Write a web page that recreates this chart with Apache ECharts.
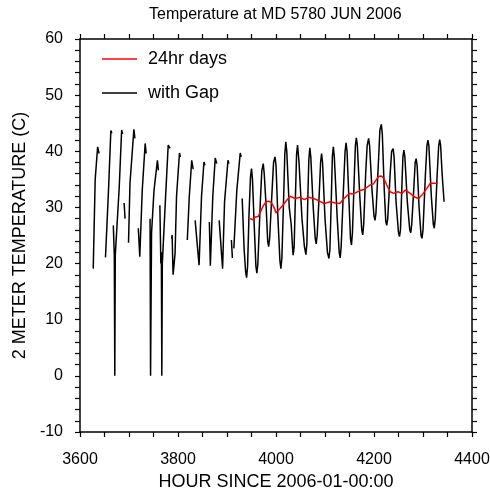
<!DOCTYPE html>
<html><head><meta charset="utf-8">
<script src="https://cdn.jsdelivr.net/npm/echarts@6/dist/echarts.min.js"></script>
<style>html,body{margin:0;padding:0;background:#fff}#c{width:490px;height:491px}</style>
</head><body><div id="c"></div>
<script>
// Early June: hourly 2 m temperature with missing hours (null = gap)
const gapHours = [
  3627,3631,3636,3639, 3645,
  3652,3658,3663,3665, 3666.5,
  3668,3670,3671,3672,3675,3680,3685,3687, 3689,
  3690,3692, 3695,
  3699,3702,3710,3712, 3716,
  3719,3722,3727,3733,3735, 3740,
  3743,3744,3746,3751,3758,3760, 3762,
  3763,3765,3766,3767,3768,3770,3775,3780,3784, 3786,
  3787,3788,3790,3794,3797,3803,3805, 3812,
  3819,3823,3828,3831, 3833,
  3835,3843,3848,3853,3855, 3860,
  3864,3866,3871,3876,3879, 3882,
  3884,3891,3895,3902,3904, 3906,
  3909,3911, 3913,
  3914,3920,3927,3929, 3930
];
const gapTemps = [
  19.1,35.0,40.8,39.6, null,
  21.1,32.7,43.7,43.2, null,
  26.8,21.5,0,21.5,21.2,33.5,43.8,43.1, null,
  30.8,28.0, null,
  23.7,34.3,43.9,42.3, null,
  26.3,21.2,33.0,41.4,39.6, null,
  28.0,0,25.4,33.0,38.4,36.6, null,
  30.4,20.0,22.0,0,20.0,23.6,32.5,41.1,40.5, null,
  24.4,25.1,18.0,21.8,32.0,39.7,39.0, null,
  24.2,31.9,38.4,36.8, null,
  27.7,19.7,32.0,38.1,37.5, null,
  27.4,19.6,32.0,38.8,37.8, null,
  27.7,19.1,31.0,38.4,37.8, null,
  24.2,21.0, null,
  22.7,33.0,39.7,39.0, null
];
// Later June: continuous hourly record (key readings)
const contHours = [
  3931,3935,3938,3940,3942,3945,3948,3950,3952,3955,3959,3961,3963,3968,3971,3974,
  3976,3980,3983,3985,3987,3992,3995,3998,4000,4004,4008,4010,4012,4016,4018,4020,
  4022,4027,4031,4034,4035,4037,4040,4042,4044,4047,4050,4053,4058,4061,4063,4065,
  4067,4069,4071,4076,4080,4082,4084,4088,4091,4093,4095,4100,4105,4108,4110,4113,
  4115,4117,4119,4125,4129,4131,4133,4138,4141,4143,4145,4149,4152,4154,4156,4160,
  4162,4164,4166,4171,4175,4177,4179,4183,4186,4189,4191,4196,4200,4202,4204,4209,
  4212,4215,4217,4221,4224,4226,4228,4233,4236,4239,4241,4245,4250,4252,4254,4257,
  4259,4261,4263,4268,4273,4275,4277,4281,4284,4286,4288,4292,4296,4298,4300,4305,
  4308,4310,4312,4317,4321,4323,4325,4329,4332,4334,4336,4339,4343
];
const contTemps = [
  31.6,22.5,18.5,17.5,19.5,29.0,35.5,36.9,35.0,28.0,19.5,18.3,20.0,31.0,36.5,37.8,
  36.0,30.0,24.0,23.0,24.5,33.0,38.0,39.0,37.5,28.0,20.5,19.1,21.0,33.0,39.5,41.7,
  40.0,30.0,27.0,22.5,21.5,23.0,33.0,39.5,41.1,38.0,33.0,28.0,23.0,21.6,23.5,32.0,
  38.5,40.6,39.0,30.0,24.5,23.5,25.0,32.0,38.0,39.6,38.0,28.0,22.0,20.9,22.5,32.0,
  39.0,40.8,39.0,28.0,22.0,21.0,23.0,34.0,40.0,41.5,40.0,31.0,24.5,23.3,25.5,36.0,
  41.0,42.4,41.0,32.0,26.0,25.1,27.0,36.0,41.0,42.3,41.0,33.0,28.5,27.7,29.0,38.0,
  43.8,44.8,43.0,33.0,27.5,26.8,28.0,36.0,40.0,40.5,39.0,31.0,25.5,24.8,26.0,34.0,
  39.0,40.2,39.0,31.0,26.0,25.5,27.0,33.0,38.0,38.7,37.5,30.0,25.0,24.5,26.0,36.0,
  41.0,42.0,41.0,32.0,27.0,26.3,28.0,36.0,41.0,42.1,41.0,36.0,31.0
];
// 24-hour running mean
const redHours = [
  3947,3953,3958,3964,3968,3974,3980,3986,3991,3997,4000,4006,4014,4021,4029,4039,
  4049,4058,4066,4077,4087,4098,4111,4121,4130,4139,4150,4158,4171,4180,4192,4199,
  4209,4215,4220,4226,4233,4240,4249,4257,4264,4274,4284,4291,4298,4308,4315,4322,4330
];
const redTemps = [
  28.0,27.8,28.3,28.4,28.6,30.3,31.0,31.1,30.8,29.8,29.0,29.6,30.4,31.2,32.0,31.6,
  31.8,31.4,31.8,31.6,31.2,30.7,31.0,30.8,30.7,31.6,32.5,32.4,33.0,33.2,34.0,34.2,
  35.5,35.6,35.2,34.0,32.8,32.5,32.8,32.5,33.1,32.5,31.8,31.6,32.2,33.4,34.3,34.3,34.3
];
const xRange = [3600, 4400];
const yRange = [-10, 60];

const FONT = 'Liberation Sans, Arial, Helvetica, sans-serif';
const chart = echarts.init(document.getElementById('c'));
const blackData = gapHours.map((h, i) => [h, gapTemps[i] == null ? '-' : gapTemps[i]])
  .concat(contHours.map((h, i) => [h, contTemps[i]]));
const redData = redHours.map((h, i) => [h, redTemps[i]]);

const axisLine = {show: true, onZero: false, lineStyle: {color: '#000', width: 1.5}};
const tick = {show: true, inside: false, length: 5, lineStyle: {color: '#000', width: 1.2}};
const minorX = {show: true, splitNumber: 4, length: 5, lineStyle: {color: '#000', width: 1.2}};
const minorY = {show: true, splitNumber: 5, length: 5, lineStyle: {color: '#000', width: 1.2}};

chart.setOption({
  animation: false,
  backgroundColor: '#fff',
  title: {
    text: 'Temperature at MD 5780 JUN 2006',
    left: 149, top: 7, padding: 0,
    textStyle: {fontFamily: FONT, fontSize: 16, fontWeight: 'normal', color: '#000'}
  },
  legend: {
    orient: 'vertical', left: 102, top: 50, padding: 0,
    icon: 'rect', itemWidth: 35, itemHeight: 1.5, itemGap: 16,
    data: ['24hr days', 'with Gap'],
    textStyle: {fontFamily: FONT, fontSize: 18, color: '#000', padding: [0, 0, 0, 6]}
  },
  grid: {left: 80, top: 39, width: 392, height: 393, containLabel: false,
    outerBoundsMode: 'none'},
  xAxis: [{
    type: 'value', min: xRange[0], max: xRange[1], interval: 200,
    position: 'bottom',
    name: 'HOUR SINCE 2006-01-00:00', nameLocation: 'middle', nameGap: 40,
    nameTextStyle: {fontFamily: FONT, fontSize: 18, color: '#000'},
    axisLine: axisLine, axisTick: tick, minorTick: minorX,
    axisLabel: {fontFamily: FONT, fontSize: 16, color: '#000', margin: 20,
      formatter: v => String(v)},
    splitLine: {show: false}
  }, {
    type: 'value', min: xRange[0], max: xRange[1], interval: 200,
    position: 'top',
    axisLine: axisLine, axisTick: tick, minorTick: minorX,
    axisLabel: {show: false}, splitLine: {show: false}
  }],
  yAxis: [{
    type: 'value', min: yRange[0], max: yRange[1], interval: 10,
    position: 'left',
    name: '2 METER TEMPERATURE (C)', nameLocation: 'middle', nameGap: 50,
    nameTextStyle: {fontFamily: FONT, fontSize: 18, color: '#000'},
    axisLine: axisLine, axisTick: tick, minorTick: minorY,
    axisLabel: {fontFamily: FONT, fontSize: 16, color: '#000', margin: 17,
      formatter: v => String(v)},
    splitLine: {show: false}
  }, {
    type: 'value', min: yRange[0], max: yRange[1], interval: 10,
    position: 'right',
    axisLine: axisLine, axisTick: tick, minorTick: minorY,
    axisLabel: {show: false}, splitLine: {show: false}
  }],
  series: [{
    name: 'with Gap', type: 'line', data: blackData,
    xAxisIndex: 0, yAxisIndex: 0,
    symbol: 'none', connectNulls: false,
    lineStyle: {color: '#000', width: 1.5}, itemStyle: {color: '#000'}
  }, {
    name: '24hr days', type: 'line', data: redData,
    xAxisIndex: 0, yAxisIndex: 0,
    symbol: 'none',
    lineStyle: {color: '#ff0000', width: 1.5}, itemStyle: {color: '#ff0000'}
  }]
});
</script>
</body></html>
